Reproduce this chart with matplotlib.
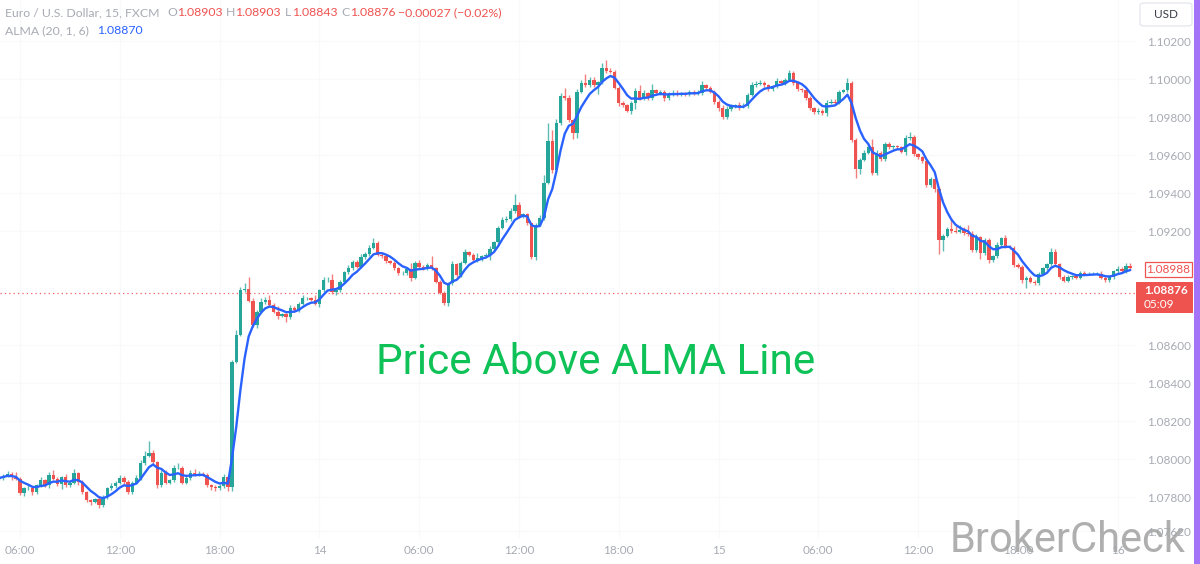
import numpy as np
import matplotlib
matplotlib.use('Agg')
import matplotlib.pyplot as plt
from matplotlib.patches import Rectangle, FancyBboxPatch

# ---------------- data ----------------
close = [
    1.07900, 1.07911, 1.07921, 1.07905, 1.07895, 1.07821, 1.07847, 1.07847, 1.07826, 1.07863,
    1.07889, 1.07863, 1.07916, 1.07895, 1.07868, 1.07905, 1.07863, 1.07874, 1.07926, 1.07879,
    1.07826, 1.07784, 1.07774, 1.07789, 1.07758, 1.07800, 1.07847, 1.07858, 1.07874, 1.07900,
    1.07879, 1.07826, 1.07874, 1.07900, 1.07979, 1.08016, 1.08032, 1.07984, 1.07863, 1.07926,
    1.07874, 1.07889, 1.07953, 1.07953, 1.07874, 1.07900, 1.07926, 1.07921, 1.07921, 1.07916,
    1.07863, 1.07853, 1.07847, 1.07858, 1.07905, 1.07853, 1.08511, 1.08653, 1.08889, 1.08895,
    1.08832, 1.08705, 1.08774, 1.08826, 1.08837, 1.08811, 1.08774, 1.08753, 1.08763, 1.08747,
    1.08795, 1.08784, 1.08816, 1.08847, 1.08847, 1.08837, 1.08816, 1.08889, 1.08942, 1.08942,
    1.08879, 1.08889, 1.08932, 1.08984, 1.09005, 1.09037, 1.09011, 1.09063, 1.09079, 1.09111,
    1.09137, 1.09074, 1.09068, 1.09042, 1.09032, 1.09005, 1.08979, 1.08979, 1.09000, 1.08953,
    1.09032, 1.09011, 1.09005, 1.09021, 1.09005, 1.08932, 1.08874, 1.08821, 1.08926, 1.09026,
    1.08968, 1.09032, 1.09089, 1.09074, 1.09047, 1.09058, 1.09068, 1.09074, 1.09105, 1.09142,
    1.09216, 1.09258, 1.09263, 1.09305, 1.09337, 1.09274, 1.09289, 1.09242, 1.09063, 1.09232,
    1.09268, 1.09453, 1.09674, 1.09521, 1.09768, 1.09911, 1.09900, 1.09784, 1.09716, 1.09932,
    1.09979, 1.09968, 1.09995, 1.09968, 1.09984, 1.10058, 1.10042, 1.10037, 1.09953, 1.09874,
    1.09863, 1.09832, 1.09874, 1.09937, 1.09895, 1.09926, 1.09900, 1.09942, 1.09926, 1.09932,
    1.09900, 1.09921, 1.09926, 1.09921, 1.09926, 1.09921, 1.09932, 1.09926, 1.09926, 1.09968,
    1.09953, 1.09932, 1.09879, 1.09847, 1.09800, 1.09842, 1.09858, 1.09863, 1.09853, 1.09858,
    1.09916, 1.09968, 1.09974, 1.09979, 1.09968, 1.09947, 1.09963, 1.09989, 1.09979, 1.09995,
    1.10032, 1.09979, 1.09947, 1.09942, 1.09900, 1.09847, 1.09826, 1.09832, 1.09821, 1.09874,
    1.09879, 1.09874, 1.09932, 1.09942, 1.09979, 1.09679, 1.09526, 1.09574, 1.09611, 1.09642,
    1.09505, 1.09611, 1.09579, 1.09658, 1.09642, 1.09647, 1.09642, 1.09616, 1.09689, 1.09695,
    1.09605, 1.09589, 1.09568, 1.09442, 1.09474, 1.09421, 1.09153, 1.09174, 1.09211, 1.09200,
    1.09195, 1.09205, 1.09189, 1.09184, 1.09100, 1.09168, 1.09084, 1.09153, 1.09047, 1.09068,
    1.09126, 1.09163, 1.09116, 1.09111, 1.09021, 1.09011, 1.08942, 1.08953, 1.08932, 1.08926,
    1.08974, 1.09005, 1.09026, 1.09089, 1.09026, 1.08958, 1.08937, 1.08958, 1.08963, 1.08953,
    1.08979, 1.08974, 1.08974, 1.08974, 1.08974, 1.08953, 1.08942, 1.08958, 1.08989, 1.09000,
    1.08989, 1.09016, 1.09005,
]
first_open = 1.07895

# wick lengths beyond the candle body, in pips
upper_wick_pips = [
    1, 1, 2, 1, 3, 1, 1, 2, 1, 1, 2, 1, 2, 3, 1, 1, 2, 1, 3, 1,
    1, 1, 1, 1, 2, 1, 1, 2, 1, 2, 1, 1, 1, 2, 2, 3, 8, 2, 1, 2,
    2, 1, 2, 3, 1, 1, 2, 3, 2, 1, 1, 1, 1, 1, 2, 1, 1, 3, 2, 4,
    8, 2, 1, 3, 2, 3, 1, 4, 1, 1, 2, 1, 1, 2, 1, 1, 3, 1, 2, 2,
    4, 1, 1, 1, 2, 1, 1, 2, 1, 2, 3, 1, 1, 1, 1, 1, 1, 1, 1, 4,
    1, 2, 1, 1, 6, 1, 1, 1, 1, 2, 1, 1, 2, 1, 1, 3, 1, 1, 2, 1,
    1, 2, 2, 2, 7, 2, 1, 1, 1, 1, 2, 5, 12, 7, 3, 2, 5, 2, 1, 2,
    2, 6, 2, 2, 1, 3, 5, 2, 1, 1, 1, 1, 1, 2, 4, 2, 1, 4, 1, 1,
    1, 1, 2, 2, 1, 1, 1, 1, 2, 3, 1, 1, 1, 1, 2, 2, 1, 1, 2, 2,
    1, 2, 2, 2, 1, 1, 1, 2, 1, 1, 2, 1, 1, 1, 1, 1, 1, 2, 1, 2,
    2, 2, 1, 1, 3, 1, 1, 1, 2, 2, 5, 2, 1, 1, 1, 1, 1, 1, 2, 3,
    1, 1, 1, 1, 1, 1, 1, 1, 1, 7, 3, 3, 2, 5, 2, 2, 1, 1, 1, 1,
    2, 1, 2, 1, 1, 1, 1, 1, 1, 1, 1, 1, 1, 3, 2, 1, 1, 1, 1, 1,
    1, 1, 1, 1, 1, 2, 1, 1, 1, 2, 1, 2, 2,
]
lower_wick_pips = [
    1, 1, 1, 2, 1, 1, 2, 1, 2, 1, 1, 1, 2, 1, 1, 3, 1, 1, 1, 2,
    1, 1, 2, 1, 2, 1, 1, 1, 1, 1, 2, 1, 1, 1, 1, 1, 1, 1, 2, 1,
    1, 1, 1, 1, 1, 1, 1, 1, 1, 1, 1, 2, 2, 1, 1, 3, 3, 1, 1, 1,
    1, 1, 2, 1, 1, 1, 1, 2, 1, 3, 1, 1, 1, 1, 1, 1, 1, 2, 1, 1,
    1, 2, 1, 1, 1, 1, 1, 1, 1, 1, 1, 1, 1, 1, 1, 1, 1, 1, 1, 2,
    1, 1, 1, 1, 1, 1, 1, 1, 2, 1, 1, 1, 1, 1, 1, 1, 2, 1, 3, 1,
    1, 1, 1, 1, 1, 1, 1, 1, 1, 2, 1, 1, 1, 2, 1, 1, 1, 1, 4, 3,
    1, 1, 1, 1, 6, 1, 1, 1, 1, 2, 1, 1, 2, 4, 1, 1, 1, 1, 1, 1,
    2, 1, 1, 1, 1, 1, 1, 1, 1, 1, 1, 1, 1, 2, 1, 1, 1, 1, 2, 1,
    1, 1, 1, 1, 1, 1, 1, 1, 1, 1, 1, 1, 1, 1, 1, 1, 1, 1, 1, 2,
    1, 1, 1, 1, 1, 1, 6, 3, 1, 1, 1, 1, 1, 1, 1, 1, 1, 1, 2, 1,
    1, 1, 1, 1, 1, 2, 9, 7, 1, 1, 1, 1, 1, 1, 1, 1, 4, 1, 2, 1,
    1, 1, 1, 1, 1, 1, 2, 5, 1, 1, 1, 1, 1, 1, 1, 1, 1, 1, 1, 1,
    1, 1, 1, 1, 1, 1, 1, 1, 1, 1, 1, 1, 1,
]

time_labels = ['06:00', '12:00', '18:00', '14', '06:00', '12:00',
               '18:00', '15', '06:00', '12:00', '18:00', '16']
time_label_bars = [5, 29, 53, 77, 101, 125, 149, 173, 197, 221, 245, 269]
price_ticks = [1.102, 1.100, 1.098, 1.096, 1.094, 1.092, 1.086, 1.084,
               1.082, 1.080, 1.078, 1.0762]
last_close = 1.08876
alma_last_box = 1.08988

# ---------------- derived ----------------
close = np.array(close)
opens = np.concatenate([[first_open], close[:-1]])
pip = 0.0001
highs = np.maximum(opens, close) + np.array(upper_wick_pips) * pip * 0.8
lows = np.minimum(opens, close) - np.array(lower_wick_pips) * pip * 0.8
n = len(close)
idx = np.arange(n)


def alma(src, window=20, offset=1.0, sigma=6):
    m = offset * (window - 1)
    s = window / sigma
    out = np.empty(len(src))
    for i in range(len(src)):
        w_len = min(window, i + 1)
        js = np.arange(window - w_len, window)
        w = np.exp(-((js - m) ** 2) / (2 * s * s))
        vals = src[i - w_len + 1:i + 1]
        out[i] = np.sum(w * vals) / np.sum(w)
    return out


alma_line = alma(close)

UP = '#26a69a'
DOWN = '#ef5350'
GRAY = '#a8abb4'

W, H = 1200, 564
fig = plt.figure(figsize=(W / 100, H / 100), dpi=100)
fig.patch.set_facecolor('white')

plot_right = 1136
plot_bottom = 538
ax = fig.add_axes([0, (H - plot_bottom) / H, plot_right / W, plot_bottom / H])
ax.set_facecolor('white')

px_per_bar = 4.158
x0 = 20 - 5 * px_per_bar
ax.set_xlim((0 - x0) / px_per_bar, (plot_right - x0) / px_per_bar)
ytop = 1.08 + 459 / 19000
ybot = 1.08 - (plot_bottom - 459) / 19000
ax.set_ylim(ybot, ytop)

# very faint grid
for b in time_label_bars:
    ax.axvline(b, color='#f8f9fb', lw=0.8, zorder=0)
for p in price_ticks:
    ax.axhline(p, color='#f8f9fb', lw=0.8, zorder=0)

colors = np.where(close >= opens, UP, DOWN)
ax.vlines(idx, lows, highs, colors=colors, lw=1.0, alpha=0.75, zorder=2)
body_h = np.abs(close - opens)
body_h = np.maximum(body_h, 0.00002)
ax.bar(idx, body_h, bottom=np.minimum(opens, close), width=0.82,
       color=colors, edgecolor='none', zorder=3)

ax.plot(idx, alma_line, color='#2962ff', lw=1.7, zorder=4, solid_capstyle='round')

ax.axhline(last_close, color='#f23645', lw=0.9, ls=(0, (1, 2.5)), alpha=0.8, zorder=1)

for s in ax.spines.values():
    s.set_visible(False)
ax.set_xticks(time_label_bars)
ax.set_xticklabels(time_labels)
ax.tick_params(axis='x', length=0, pad=5, labelsize=8.5, labelcolor=GRAY)
ax.yaxis.tick_right()
ax.set_yticks(price_ticks)
ax.set_yticklabels([f'{p:.5f}' for p in price_ticks])
ax.tick_params(axis='y', length=0, pad=8, labelsize=8.5, labelcolor=GRAY)
for lab in ax.get_xticklabels() + ax.get_yticklabels():
    lab.set_fontfamily(['Lato', 'DejaVu Sans'])


def fy(y):
    return 1 - y / H


# header texts
hdr_font = ['Lato', 'DejaVu Sans']
hs = 8.8
fig.text(5 / W, fy(13), 'Euro / U.S. Dollar, 15, FXCM', color=GRAY, fontsize=hs,
         family=hdr_font, va='center', ha='left')
pieces = [(167, 'O', GRAY), (177, '1.08903', DOWN), (226, 'H', GRAY), (235, '1.08903', DOWN),
          (285, 'L', GRAY), (292, '1.08843', DOWN), (341, 'C', GRAY), (350, '1.08876', DOWN),
          (398, '\u22120.00027 (\u22120.02%)', DOWN)]
for x, t, c in pieces:
    fig.text(x / W, fy(13), t, color=c, fontsize=hs, family=hdr_font, va='center', ha='left')
fig.text(5 / W, fy(31), 'ALMA (20, 1, 6)', color=GRAY, fontsize=hs, family=hdr_font,
         va='center', ha='left')
fig.text(97 / W, fy(31), '1.08870', color='#2962ff', fontsize=hs, family=hdr_font,
         va='center', ha='left')

# USD box
usd = FancyBboxPatch((1140 / W, fy(26)), 52 / W, 23 / H,
                     boxstyle='round,pad=0,rounding_size=0.004',
                     transform=fig.transFigure, facecolor='white',
                     edgecolor='#e0e3eb', lw=0.8)
fig.add_artist(usd)
fig.text(1166 / W, fy(14), 'USD', color='#3a3e48', fontsize=8.5, family=hdr_font,
         ha='center', va='center')

# price boxes
fig.add_artist(Rectangle((1145 / W, fy(277)), 47 / W, 15 / H, transform=fig.transFigure,
                         facecolor='white', edgecolor=DOWN, lw=0.9))
fig.text(1168 / W, fy(269.5), f'{alma_last_box:.5f}', color=DOWN, fontsize=8.5,
         family=hdr_font, ha='center', va='center')
fig.add_artist(Rectangle((1136 / W, fy(313)), 57 / W, 31 / H, transform=fig.transFigure,
                         facecolor='#ef5350', edgecolor='none'))
fig.text(1144 / W, fy(290), f'{last_close:.5f}', color='white', fontsize=8.5,
         family=hdr_font, ha='left', va='center', fontweight='bold')
fig.text(1144 / W, fy(304), '05:09', color='white', fontsize=8.5,
         family=hdr_font, ha='left', va='center')

# purple strip at right edge
fig.add_artist(Rectangle((1194 / W, 0), 6 / W, 1, transform=fig.transFigure,
                         facecolor='#a374f7', edgecolor='none'))

# big green annotation
fig.text(596 / W, fy(362), 'Price Above ALMA Line', color='#0fc258', fontsize=30.5,
         family=['Roboto', 'DejaVu Sans'], ha='center', va='center')

# watermark
fig.text(1068 / W, fy(541), 'BrokerCheck', color='#a6a6a6', fontsize=30,
         family=['Roboto', 'DejaVu Sans'], ha='center', va='center', alpha=0.9)

fig.savefig('out.png', dpi=100, facecolor='white')
